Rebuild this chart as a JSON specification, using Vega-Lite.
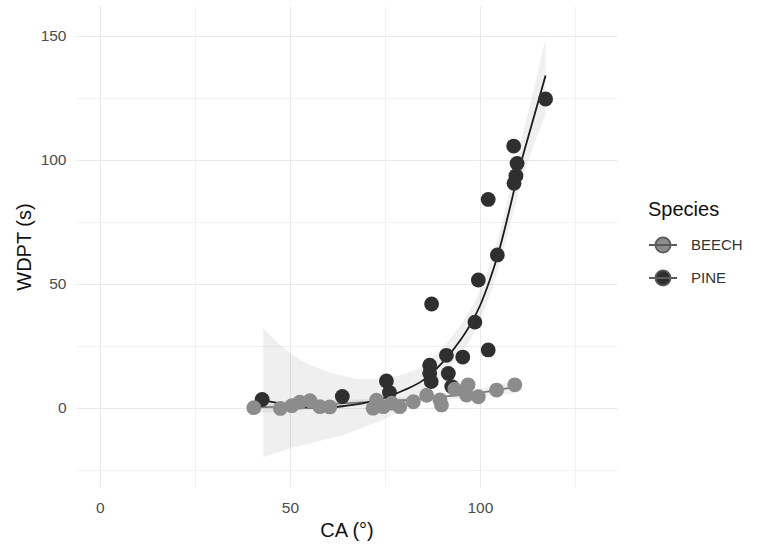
{
  "$schema": "https://vega.github.io/schema/vega-lite/v6.json",
  "autosize": {"type": "none"},
  "width": 541,
  "height": 481,
  "padding": {"left": 76, "top": 6, "right": 143, "bottom": 65},
  "background": "white",
  "config": {
    "view": {"stroke": null},
    "font": "Liberation Sans",
    "axis": {
      "domain": false,
      "ticks": false,
      "gridColor": "#e9e9e9",
      "labelColor": "#4d4d4d",
      "labelFontSize": 15.5,
      "titleFontSize": 20,
      "titleFontWeight": "normal",
      "titleColor": "#111111"
    }
  },
  "datasets": {
    "pts": [
      {"CA": 42.7, "WDPT": 3.3, "Species": "PINE"},
      {"CA": 63.8, "WDPT": 4.5, "Species": "PINE"},
      {"CA": 75.4, "WDPT": 10.8, "Species": "PINE"},
      {"CA": 76.2, "WDPT": 6.1, "Species": "PINE"},
      {"CA": 86.8, "WDPT": 17.1, "Species": "PINE"},
      {"CA": 86.8, "WDPT": 13.9, "Species": "PINE"},
      {"CA": 87.2, "WDPT": 10.5, "Species": "PINE"},
      {"CA": 87.3, "WDPT": 41.8, "Species": "PINE"},
      {"CA": 91.2, "WDPT": 21.1, "Species": "PINE"},
      {"CA": 91.7, "WDPT": 13.8, "Species": "PINE"},
      {"CA": 92.6, "WDPT": 8.5, "Species": "PINE"},
      {"CA": 95.5, "WDPT": 20.4, "Species": "PINE"},
      {"CA": 98.7, "WDPT": 34.5, "Species": "PINE"},
      {"CA": 99.6, "WDPT": 51.5, "Species": "PINE"},
      {"CA": 102.2, "WDPT": 23.3, "Species": "PINE"},
      {"CA": 102.2, "WDPT": 84.0, "Species": "PINE"},
      {"CA": 104.6, "WDPT": 61.6, "Species": "PINE"},
      {"CA": 108.9, "WDPT": 105.5, "Species": "PINE"},
      {"CA": 109.8, "WDPT": 98.5, "Species": "PINE"},
      {"CA": 109.5, "WDPT": 93.5, "Species": "PINE"},
      {"CA": 109.0, "WDPT": 90.5, "Species": "PINE"},
      {"CA": 117.3, "WDPT": 124.5, "Species": "PINE"},
      {"CA": 40.5, "WDPT": 0.0, "Species": "BEECH"},
      {"CA": 47.5, "WDPT": -0.3, "Species": "BEECH"},
      {"CA": 50.5, "WDPT": 0.8, "Species": "BEECH"},
      {"CA": 52.6, "WDPT": 2.2, "Species": "BEECH"},
      {"CA": 55.3, "WDPT": 2.8, "Species": "BEECH"},
      {"CA": 57.9, "WDPT": 0.4, "Species": "BEECH"},
      {"CA": 60.5, "WDPT": 0.3, "Species": "BEECH"},
      {"CA": 71.9, "WDPT": -0.2, "Species": "BEECH"},
      {"CA": 72.8, "WDPT": 3.0, "Species": "BEECH"},
      {"CA": 74.6, "WDPT": 0.4, "Species": "BEECH"},
      {"CA": 76.8, "WDPT": 1.8, "Species": "BEECH"},
      {"CA": 78.9, "WDPT": 0.4, "Species": "BEECH"},
      {"CA": 82.5, "WDPT": 2.4, "Species": "BEECH"},
      {"CA": 86.0, "WDPT": 5.0, "Species": "BEECH"},
      {"CA": 89.5, "WDPT": 3.1, "Species": "BEECH"},
      {"CA": 89.9, "WDPT": 1.1, "Species": "BEECH"},
      {"CA": 93.4, "WDPT": 7.5, "Species": "BEECH"},
      {"CA": 96.5, "WDPT": 5.1, "Species": "BEECH"},
      {"CA": 96.9, "WDPT": 9.2, "Species": "BEECH"},
      {"CA": 99.6, "WDPT": 4.4, "Species": "BEECH"},
      {"CA": 104.4, "WDPT": 7.1, "Species": "BEECH"},
      {"CA": 109.2, "WDPT": 9.2, "Species": "BEECH"}
    ],
    "fit": [
      {"CA": 43, "fit": 3, "lo": -20, "hi": 32, "Species": "PINE"},
      {"CA": 50, "fit": 1, "lo": -16.5, "hi": 22, "Species": "PINE"},
      {"CA": 55, "fit": 0, "lo": -14.5, "hi": 17.5, "Species": "PINE"},
      {"CA": 60, "fit": 0, "lo": -12.5, "hi": 14.5, "Species": "PINE"},
      {"CA": 65, "fit": 0.8, "lo": -10.5, "hi": 12.5, "Species": "PINE"},
      {"CA": 70, "fit": 2, "lo": -7.5, "hi": 11.5, "Species": "PINE"},
      {"CA": 75, "fit": 4, "lo": -4.5, "hi": 12, "Species": "PINE"},
      {"CA": 80, "fit": 7, "lo": -0.5, "hi": 13.5, "Species": "PINE"},
      {"CA": 85, "fit": 11, "lo": 5, "hi": 17, "Species": "PINE"},
      {"CA": 90, "fit": 18, "lo": 12.5, "hi": 24, "Species": "PINE"},
      {"CA": 95, "fit": 27.5, "lo": 21.5, "hi": 33.5, "Species": "PINE"},
      {"CA": 97.5, "fit": 33.5, "lo": 27.5, "hi": 39.5, "Species": "PINE"},
      {"CA": 100, "fit": 41, "lo": 35, "hi": 47, "Species": "PINE"},
      {"CA": 102.5, "fit": 51, "lo": 45, "hi": 57, "Species": "PINE"},
      {"CA": 105, "fit": 63, "lo": 57, "hi": 69.5, "Species": "PINE"},
      {"CA": 107.5, "fit": 78, "lo": 71, "hi": 85, "Species": "PINE"},
      {"CA": 110, "fit": 94, "lo": 86, "hi": 102, "Species": "PINE"},
      {"CA": 114, "fit": 116, "lo": 105, "hi": 127, "Species": "PINE"},
      {"CA": 117.3, "fit": 134, "lo": 118, "hi": 149, "Species": "PINE"},
      {"CA": 40.5, "fit": 0.0, "lo": -2.5, "hi": 2.5, "Species": "BEECH"},
      {"CA": 50, "fit": 0.7, "lo": -1.2, "hi": 2.6, "Species": "BEECH"},
      {"CA": 60, "fit": 1.4, "lo": -0.1, "hi": 2.9, "Species": "BEECH"},
      {"CA": 70, "fit": 2.2, "lo": 0.9, "hi": 3.5, "Species": "BEECH"},
      {"CA": 80, "fit": 3.0, "lo": 1.8, "hi": 4.2, "Species": "BEECH"},
      {"CA": 90, "fit": 4.4, "lo": 3.1, "hi": 5.7, "Species": "BEECH"},
      {"CA": 100, "fit": 6.0, "lo": 4.4, "hi": 7.6, "Species": "BEECH"},
      {"CA": 109.2, "fit": 8.3, "lo": 5.8, "hi": 10.8, "Species": "BEECH"}
    ]
  },
  "layer": [
    {
      "data": {"name": "fit"},
      "mark": {"type": "area", "fill": "#999999", "opacity": 0.16, "interpolate": "monotone"},
      "encoding": {
        "x": {
          "field": "CA", "type": "quantitative",
          "scale": {"domain": [-6.3, 136.1], "nice": false, "zero": false},
          "axis": {
            "title": "CA (°)",
            "values": [0, 25, 50, 75, 100, 125],
            "labelExpr": "datum.value % 50 === 0 ? datum.label : ''",
            "gridWidth": {"condition": {"test": "datum.value % 50 === 0", "value": 1.1}, "value": 0.6},
            "labelPadding": 13,
            "titlePadding": 5
          }
        },
        "y": {
          "field": "lo", "type": "quantitative",
          "scale": {"domain": [-32, 162], "nice": false, "zero": false},
          "axis": {
            "title": "WDPT (s)",
            "values": [-25, 0, 25, 50, 75, 100, 125, 150],
            "labelExpr": "datum.value % 50 === 0 ? datum.label : ''",
            "gridWidth": {"condition": {"test": "datum.value % 50 === 0", "value": 1.1}, "value": 0.6},
            "labelPadding": 10,
            "titlePadding": 6
          }
        },
        "y2": {"field": "hi"},
        "detail": {"field": "Species"}
      }
    },
    {
      "data": {"name": "fit"},
      "transform": [{"filter": "datum.Species === 'BEECH'"}],
      "mark": {"type": "line", "strokeWidth": 1.8, "color": "#7a7a7a", "interpolate": "monotone"},
      "encoding": {
        "x": {"field": "CA", "type": "quantitative"},
        "y": {"field": "fit", "type": "quantitative"}
      }
    },
    {
      "data": {"name": "fit"},
      "transform": [{"filter": "datum.Species === 'PINE'"}],
      "mark": {"type": "line", "strokeWidth": 1.8, "color": "#1c1c1c", "interpolate": "monotone"},
      "encoding": {
        "x": {"field": "CA", "type": "quantitative"},
        "y": {"field": "fit", "type": "quantitative"}
      }
    },
    {
      "data": {"name": "pts"},
      "mark": {"type": "point", "filled": true, "opacity": 1, "size": 220},
      "encoding": {
        "x": {"field": "CA", "type": "quantitative"},
        "y": {"field": "WDPT", "type": "quantitative"},
        "color": {
          "field": "Species", "type": "nominal",
          "scale": {"domain": ["BEECH", "PINE"], "range": ["#8c8c8c", "#2f2f2f"]},
          "legend": {
            "orient": "none",
            "legendX": 572,
            "legendY": 194,
            "title": "Species",
            "titleFontSize": 20,
            "titleFontWeight": "normal",
            "titleColor": "#111111",
            "titlePadding": 10,
            "labelFontSize": 15,
            "labelColor": "#333333",
            "labelOffset": 13,
            "rowPadding": 6,
            "symbolType": "M-1,0L1,0M0.54,0A0.54,0.54,0,1,1,-0.54,0A0.54,0.54,0,1,1,0.54,0Z",
            "symbolSize": 784,
            "symbolStrokeWidth": 1.8,
            "symbolStrokeColor": "#5a5a5a",
            "padding": 0
          }
        }
      }
    }
  ]
}
